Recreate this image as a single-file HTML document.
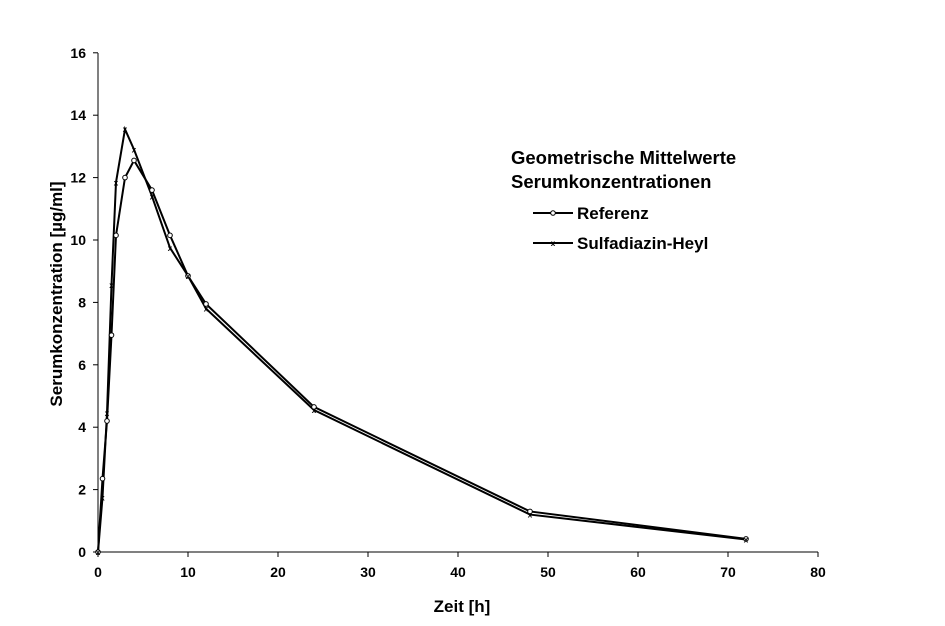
<!DOCTYPE html>
<html><head><meta charset="utf-8"><style>
body{margin:0;background:#fff;width:945px;height:621px;overflow:hidden}
svg text{font-family:"Liberation Sans",Arial,sans-serif;font-weight:bold;fill:#000}
</style></head><body>
<svg id="s" width="945" height="621" xmlns="http://www.w3.org/2000/svg">
<text x="70" y="302" font-size="17" text-anchor="middle" transform="rotate(-90 62 302)">Serumkonzentration [µg/ml]</text>
<text x="462" y="612" font-size="17" text-anchor="middle">Zeit [h]</text>
<text x="511" y="164" font-size="18.5">Geometrische Mittelwerte</text>
<text x="511" y="188" font-size="18.5">Serumkonzentrationen</text>
<line x1="533" y1="213" x2="573" y2="213" stroke="#000" stroke-width="2"/>
<circle cx="553" cy="213" r="2.3" fill="#fff" stroke="#000" stroke-width="1"/>
<text x="577" y="219" font-size="17">Referenz</text>
<line x1="533" y1="243" x2="573" y2="243" stroke="#000" stroke-width="2"/>
<text x="553" y="246" font-size="8" text-anchor="middle">x</text>
<text x="577" y="249" font-size="17">Sulfadiazin-Heyl</text>
</svg>
<script>
var s=document.getElementById('s'),NS='http://www.w3.org/2000/svg';
function el(t,a,txt){var e=document.createElementNS(NS,t);for(var k in a)e.setAttribute(k,a[k]);if(txt!=null)e.textContent=txt;s.appendChild(e);return e;}
var X=function(v){return 98+v*9},Y=function(v){return 552-v*31.2};
el('line',{x1:98,y1:53,x2:98,y2:552,stroke:'#000','stroke-width':1});
el('line',{x1:98,y1:552,x2:818,y2:552,stroke:'#000','stroke-width':1});
for(var i=0;i<=16;i+=2){el('line',{x1:93,y1:Y(i),x2:98,y2:Y(i),stroke:'#000'});el('text',{x:86,y:Y(i)+5,'font-size':14,'text-anchor':'end'},i);}
for(var i=0;i<=80;i+=10){el('line',{x1:X(i),y1:552,x2:X(i),y2:557,stroke:'#000'});el('text',{x:X(i),y:577,'font-size':14,'text-anchor':'middle'},i);}
var A=[[0,0],[0.5,2.35],[1,4.2],[1.5,6.95],[2,10.15],[3,12.0],[4,12.55],[6,11.6],[8,10.15],[10,8.85],[12,7.95],[24,4.65],[48,1.3],[72,0.42]];
var B=[[0,0],[0.5,1.75],[1,4.45],[1.5,8.55],[2,11.85],[3,13.55],[4,12.9],[6,11.4],[8,9.75],[10,8.85],[12,7.8],[24,4.55],[48,1.2],[72,0.4]];
function pl(d){el('polyline',{points:d.map(function(p){return X(p[0])+','+Y(p[1])}).join(' '),fill:'none',stroke:'#000','stroke-width':2});}
pl(A);pl(B);
A.forEach(function(p){el('circle',{cx:X(p[0]),cy:Y(p[1]),r:2.3,fill:'#fff',stroke:'#000','stroke-width':1});});
B.forEach(function(p){el('text',{x:X(p[0]),y:Y(p[1])+3,'font-size':8,'text-anchor':'middle'},'x');});
</script>
</body></html>
